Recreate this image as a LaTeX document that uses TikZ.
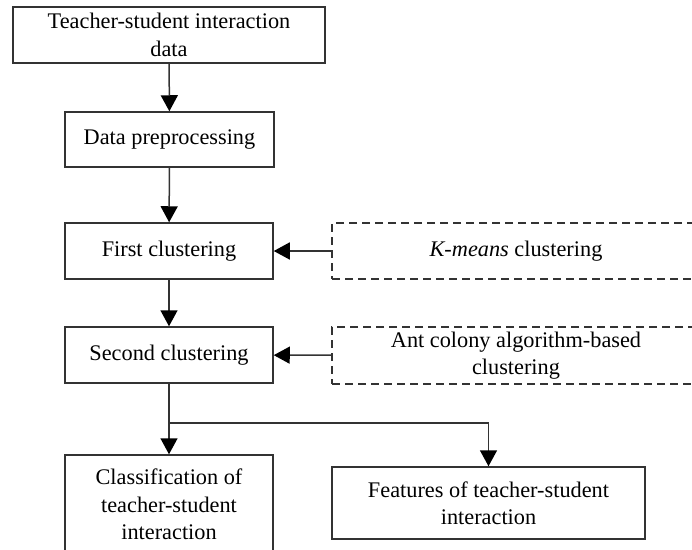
\documentclass[tikz,border=0pt]{standalone}
\usepackage{fontspec}
\setmainfont{Liberation Serif}
\usetikzlibrary{arrows.meta}
\definecolor{linegray}{HTML}{333333}
\tikzset{
  stagebox/.style={draw=linegray, line width=1.5pt, align=center, inner sep=0pt,
    font=\fontsize{22.3}{27.5}\selectfont},
  methodbox/.style={stagebox, dash pattern=on 8pt off 5pt},
  flow/.style={draw=linegray, line width=1.5pt,
    -{Triangle[width=17pt,length=16pt,fill=black,color=black]}}
}
\begin{document}
\begin{tikzpicture}[x=1pt, y=-1pt]
  \useasboundingbox (0,0) rectangle (692,549);
  \clip (0,0) rectangle (692,549);
  \node[stagebox, minimum width=312pt, minimum height=56pt] (data) at (169,35)
    {Teacher-student interaction\\data};
  \node[stagebox, minimum width=209pt, minimum height=55pt] (prep) at (169.5,139.5)
    {Data preprocessing};
  \node[stagebox, minimum width=208pt, minimum height=56pt] (first) at (169,251)
    {First clustering};
  \node[stagebox, minimum width=208pt, minimum height=56pt] (second) at (169,355)
    {Second clustering};
  \node[stagebox, minimum width=208pt, minimum height=99pt] (classif) at (169,504.5)
    {Classification of\\teacher-student\\interaction};
  \node[stagebox, minimum width=313pt, minimum height=72pt] (feat) at (488.5,503)
    {Features of teacher-student\\interaction};
  \node[methodbox, minimum width=368pt, minimum height=56pt] (kmeans) at (516,251)
    {\textit{K-means} clustering};
  \node[methodbox, minimum width=368pt, minimum height=57pt] (ant) at (516,355.5)
    {Ant colony algorithm-based\\clustering};
  \coordinate (split) at (169,423);
  % main flow
  \draw[flow] (data) -- (prep);
  \draw[flow] (prep) -- (first);
  \draw[flow] (first) -- (second);
  \draw[flow] (second) -- (classif);
  \draw[flow] (split) -| (feat);
  % methods
  \draw[flow] (kmeans) -- (first);
  \draw[flow] (ant) -- (second);
\end{tikzpicture}
\end{document}
